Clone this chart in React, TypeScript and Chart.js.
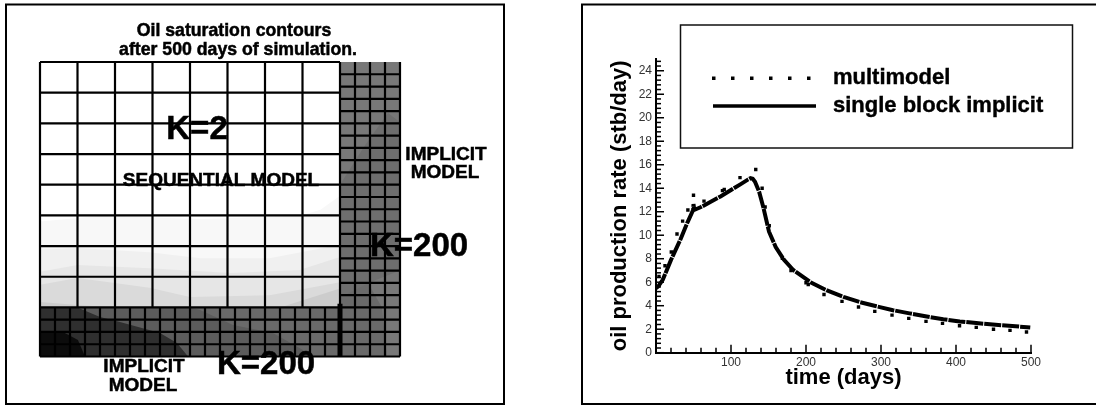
import React, { useEffect, useRef } from "react";
import { Chart, registerables } from "chart.js";

Chart.register(...registerables);

const FONT = "'Liberation Sans', Arial, sans-serif";

// ---- left panel: grid cells (reservoir cell units) ----
const coarseXEdges = [0, 2.5, 5, 7.5, 10, 12.5, 15, 17.5, 20];
const coarseYEdges = [4, 6.5, 9, 11.5, 14, 16.5, 19, 21.5, 24];
const fineXEdgesBottom = [0, 1, 2, 3, 4, 5, 6, 7, 8, 9, 10, 11, 12, 13, 14, 15, 16, 17, 18, 19, 20, 21, 22, 23, 24];
const fineYEdgesBottom = [0, 1, 2, 3, 4];
const fineXEdgesRight = [20, 21, 22, 23, 24];
const fineYEdgesRight = [4, 5, 6, 7, 8, 9, 10, 11, 12, 13, 14, 15, 16, 17, 18, 19, 20, 21, 22, 23];

type P = [number, number];
// contour bands, sequential block
const bandA: P[] = [[0, 11], [4, 11.45], [10.7, 11.2], [17.3, 11.45], [18.7, 11.95], [20, 13.1], [20, 4], [0, 4]];
const bandB: P[] = [[0, 8.7], [2.5, 8.85], [7.3, 8.5], [10.7, 8], [15.3, 8], [20, 9.1], [20, 4], [0, 4]];
const bandC: P[] = [[0, 6.9], [2.5, 7.45], [7.3, 7.2], [12.7, 6.8], [17.3, 7.05], [20, 8.1], [20, 4], [0, 4]];
const bandD: P[] = [[0, 5.85], [2.5, 6.4], [7.3, 5.6], [10, 4.85], [15.3, 5], [20, 6.05], [20, 4], [0, 4]];
const bandE1: P[] = [[0, 4.45], [2.5, 4.2], [5, 4], [0, 4]];
const bandE2: P[] = [[16, 4], [20, 5.55], [20, 4]];
// contour bands, implicit blocks
const implicitBase: P[] = [[0, 0], [24, 0], [24, 24], [0, 24]];
const sequentialBase: P[] = [[0, 4], [20, 4], [20, 24], [0, 24]];
const wedgeRight: P[] = [[20, 14], [21.6, 17.1], [23.2, 19.85], [24, 19.1], [24, 7], [21.87, 6], [20, 4.85]];
const stripLower: P[] = [[10, 4], [20, 4], [20, 4.85], [21.87, 6], [22.8, 4], [23.13, 0], [17.8, 0]];
const stripMid: P[] = [[0, 4], [10, 4], [10.67, 3.79], [12.87, 2.57], [15.53, 1.92], [17.53, 0.53], [17.8, 0], [0, 0]];
const stripDark: P[] = [[0, 4], [2.5, 4], [4, 3.22], [5.33, 2.81], [8, 1.92], [9.13, 1.1], [9.87, 0], [0, 0]];
const stripDarkest: P[] = [[0, 2], [1.53, 2], [2.53, 1.34], [3, 0], [0, 0]];
const blockDivider: P[] = [[20, 0], [20, 4.3]];

const leftLabels = [
  { text: "Oil saturation contours", x: 234, y: 31, size: 17.7 },
  { text: "after 500 days of simulation.", x: 238, y: 50, size: 17.7 },
  { text: "K=2", x: 197, y: 130, size: 33 },
  { text: "SEQUENTIAL MODEL", x: 221, y: 181, size: 19 },
  { text: "IMPLICIT", x: 446, y: 155, size: 19 },
  { text: "MODEL", x: 445, y: 173, size: 19 },
  { text: "K=200", x: 419, y: 247, size: 33 },
  { text: "K=200", x: 266, y: 365, size: 33 },
  { text: "IMPLICIT", x: 144, y: 367, size: 19 },
  { text: "MODEL", x: 143, y: 386, size: 19 },
];

// ---- right panel: production history ----
const implicitTime = [0, 3, 9, 20, 33, 42, 49.5, 50, 51, 60, 73, 86, 100, 113, 123, 126, 129, 132, 137.5, 143, 150.7, 159.6, 170.7, 183, 206, 228, 250, 272, 294, 316, 338, 361, 383, 405, 427, 449, 475, 499];
const implicitRate = [5.5, 5.65, 6.2, 7.9, 9.7, 11.1, 12.15, 12.65, 12.15, 12.4, 12.85, 13.3, 13.85, 14.35, 14.75, 14.85, 14.8, 14.55, 13.7, 12.4, 10.3, 9, 7.9, 7.04, 6, 5.3, 4.75, 4.3, 3.95, 3.62, 3.35, 3.08, 2.85, 2.66, 2.52, 2.4, 2.27, 2.14];
const multiTime = [4, 12, 20.4, 28, 35.5, 42.5, 50, 64, 88.6, 91, 112, 133, 141.5, 145.5, 151, 168.5, 180, 200, 203, 224, 248, 270, 291.7, 314.7, 337, 360, 382, 404.7, 427, 450, 472, 494];
const multiRate = [6.5, 7.4, 8.57, 10.1, 11.2, 12.15, 13.4, 12.9, 13.8, 13.9, 14.9, 15.6, 14, 12.4, 10.8, 8.03, 7, 5.95, 5.8, 4.96, 4.37, 3.89, 3.52, 3.2, 2.92, 2.67, 2.5, 2.3, 2.16, 2, 1.9, 1.76];
const xMajorTicks = [100, 200, 300, 400, 500];
const yMajorTicks = [0, 2, 4, 6, 8, 10, 12, 14, 16, 18, 20, 22, 24];
const X_MINOR_STEP = 20;
const Y_MINOR_STEP = 0.4;
const legendNames = ["multimodel", "single block implicit"];
const X_TITLE = "time (days)";
const Y_TITLE = "oil production rate (stb/day)";

const pts = (p: P[]) => p.map(([x, y]) => ({ x, y }));

function gridSegments() {
  const out: { x: number; y: number }[] = [];
  const seg = (x0: number, y0: number, x1: number, y1: number) => {
    out.push({ x: x0, y: y0 }, { x: x1, y: y1 }, { x: NaN, y: NaN });
  };
  coarseXEdges.forEach((x) => seg(x, 4, x, 24));
  coarseYEdges.forEach((y) => seg(0, y, 20, y));
  fineXEdgesBottom.forEach((x) => seg(x, 0, x, 4));
  fineYEdgesBottom.forEach((y) => seg(0, y, 24, y));
  fineXEdgesRight.forEach((x) => seg(x, 4, x, 24));
  fineYEdgesRight.forEach((y) => seg(20, y, 24, y));
  return out;
}

const frame = (x: number, y: number, w: number, h: number) => ({
  id: "frame" + x,
  afterDraw(chart: any) {
    const c = chart.ctx;
    c.save();
    c.strokeStyle = "#000";
    c.lineWidth = 2;
    c.strokeRect(x, y, w, h);
    c.restore();
  },
});

const leftText = {
  id: "leftText",
  afterDraw(chart: any) {
    const c = chart.ctx;
    c.save();
    c.fillStyle = "#000";
    c.strokeStyle = "#000";
    c.lineWidth = 0.5;
    c.textAlign = "center";
    c.textBaseline = "middle";
    leftLabels.forEach((l) => {
      c.font = `bold ${l.size}px ${FONT}`;
      c.fillText(l.text, l.x, l.y);
      c.strokeText(l.text, l.x, l.y);
    });
    c.restore();
  },
};

const insideTicks = {
  id: "insideTicks",
  afterDraw(chart: any) {
    const c = chart.ctx;
    const { x: sx, y: sy } = chart.scales;
    const base = sy.getPixelForValue(0);
    const left = sx.getPixelForValue(0);
    c.save();
    c.strokeStyle = "#000";
    c.lineWidth = 1.5;
    const line = (x0: number, y0: number, x1: number, y1: number) => {
      c.beginPath();
      c.moveTo(x0, y0);
      c.lineTo(x1, y1);
      c.stroke();
    };
    for (let v = 0; v <= sx.max; v += X_MINOR_STEP) {
      const major = v % 100 === 0;
      const p = sx.getPixelForValue(v);
      line(p, base, p, base - (major ? 8 : 5));
    }
    for (let i = 0; i * Y_MINOR_STEP <= sy.max; i++) {
      const v = i * Y_MINOR_STEP;
      const major = i % 5 === 0;
      const p = sy.getPixelForValue(v);
      line(left, p, left + (major ? 8 : 5), p);
    }
    c.restore();
  },
};

const legendBox = {
  id: "legendBox",
  afterDraw(chart: any) {
    const c = chart.ctx;
    const ox = -548;
    c.save();
    c.strokeStyle = "#111";
    c.lineWidth = 1.5;
    c.strokeRect(680.5 + ox, 25, 392, 123);
    c.fillStyle = "#000";
    for (let i = 0; i < 6; i++) {
      c.fillRect(712 + i * 19 + ox, 76.5, 3.5, 3.5);
    }
    c.lineWidth = 3.5;
    c.strokeStyle = "#000";
    c.beginPath();
    c.moveTo(713 + ox, 106);
    c.lineTo(816 + ox, 106);
    c.stroke();
    c.font = `bold 22px ${FONT}`;
    c.textBaseline = "middle";
    c.textAlign = "left";
    c.lineWidth = 0.4;
    legendNames.forEach((name, i) => {
      c.fillText(name, 833 + ox, i === 0 ? 78 : 106);
      c.strokeText(name, 833 + ox, i === 0 ? 78 : 106);
    });
    c.restore();
  },
};

export default function App() {
  const leftRef = useRef<HTMLCanvasElement>(null);
  const rightRef = useRef<HTMLCanvasElement>(null);

  useEffect(() => {
    const shape = (p: P[], color: string) => ({
      data: pts(p),
      showLine: true,
      fill: "shape",
      backgroundColor: color,
      borderWidth: 0,
      pointRadius: 0,
      tension: 0,
    });
    const layers = [
      shape(implicitBase, "#787878"),
      shape(wedgeRight, "#6e6e6e"),
      shape(stripLower, "#6a6a6a"),
      shape(stripMid, "#5c5c5c"),
      shape(stripDark, "#2f2f2f"),
      shape(stripDarkest, "#0c0c0c"),
      shape(sequentialBase, "#ffffff"),
      shape(bandA, "#f8f8f8"),
      shape(bandB, "#f0f0f0"),
      shape(bandC, "#e6e6e6"),
      shape(bandD, "#dadada"),
      shape(bandE1, "#cccccc"),
      shape(bandE2, "#cccccc"),
    ];
    const n = layers.length;
    const left = new Chart(leftRef.current!, {
      type: "scatter",
      data: {
        datasets: [
          ...layers.map((d, i) => ({ ...d, order: 100 - i })),
          {
            data: gridSegments(),
            showLine: true,
            borderColor: "#000",
            borderWidth: 2.2,
            pointRadius: 0,
            spanGaps: false,
            clip: false,
            order: 100 - n,
          },
          {
            data: pts(blockDivider),
            showLine: true,
            borderColor: "#000",
            borderWidth: 5,
            pointRadius: 0,
            clip: false,
            order: 100 - n - 1,
          },
        ],
      } as any,
      options: {
        animation: false,
        responsive: false,
        devicePixelRatio: 1,
        layout: { padding: { left: 40, top: 62, right: 148, bottom: 49.5 } },
        plugins: { legend: { display: false }, tooltip: { enabled: false } },
        scales: {
          x: { type: "linear", min: 0, max: 24, display: false },
          y: { type: "linear", min: 0, max: 24, display: false },
        },
      },
      plugins: [frame(6, 4.5, 498, 399.5), leftText],
    } as any);

    const right = new Chart(rightRef.current!, {
      type: "scatter",
      data: {
        datasets: [
          {
            label: legendNames[0],
            data: multiTime.map((t, i) => ({ x: t, y: multiRate[i] })),
            pointStyle: "rect",
            pointRadius: 2.4,
            pointBackgroundColor: "#000",
            pointBorderWidth: 0,
            showLine: false,
          },
          {
            label: legendNames[1],
            data: implicitTime.map((t, i) => ({ x: t, y: implicitRate[i] })),
            showLine: true,
            borderColor: "#000",
            borderWidth: 4,
            borderDash: [17, 1],
            pointRadius: 0,
            tension: 0,
          },
        ],
      },
      options: {
        animation: false,
        responsive: false,
        devicePixelRatio: 1,
        layout: { padding: { left: 0, top: 59, right: 65, bottom: 0 } },
        plugins: { legend: { display: false }, tooltip: { enabled: false } },
        scales: {
          x: {
            type: "linear",
            min: 0,
            max: 500,
            grid: { drawOnChartArea: false, drawTicks: false },
            border: { display: true, color: "#000", width: 2 },
            ticks: {
              padding: 3,
              color: "#333",
              font: { family: FONT, size: 12 },
              maxRotation: 0,
              autoSkip: false,
            },
            afterBuildTicks(s: any) {
              s.ticks = xMajorTicks.map((value) => ({ value }));
            },
            afterFit(s: any) {
              s.height = 53.3;
            },
            title: {
              display: true,
              text: X_TITLE,
              color: "#000",
              font: { family: FONT, size: 22, weight: "bold" },
              padding: { top: 0, bottom: 14.5 },
            },
          },
          y: {
            type: "linear",
            min: 0,
            max: 25,
            grid: { drawOnChartArea: false, drawTicks: false },
            border: { display: true, color: "#000", width: 2 },
            ticks: {
              padding: 4,
              color: "#333",
              font: { family: FONT, size: 12 },
              autoSkip: false,
            },
            afterBuildTicks(s: any) {
              s.ticks = yMajorTicks.map((value) => ({ value }));
            },
            afterFit(s: any) {
              s.width = 108;
            },
            title: {
              display: true,
              text: Y_TITLE,
              color: "#000",
              font: { family: FONT, size: 22, weight: "bold" },
              padding: { top: 59, bottom: 0 },
            },
          },
        },
      },
      plugins: [frame(34, 4.5, 600, 399.5), insideTicks, legendBox],
    } as any);

    return () => {
      left.destroy();
      right.destroy();
    };
  }, []);

  return (
    <div style={{ position: "fixed", left: 0, top: 0, width: 1096, height: 406, overflow: "hidden", background: "#fff" }}>
      <canvas ref={leftRef} width={548} height={406} style={{ position: "absolute", left: 0, top: 0 }} />
      <canvas ref={rightRef} width={548} height={406} style={{ position: "absolute", left: 548, top: 0 }} />
    </div>
  );
}
